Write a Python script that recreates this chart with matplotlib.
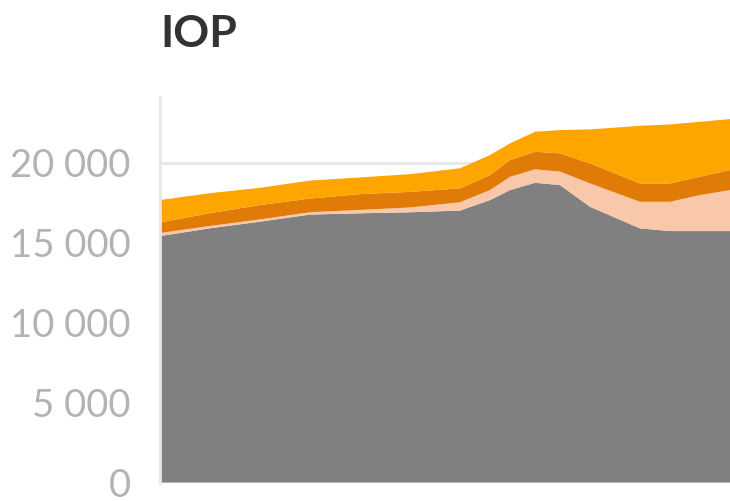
import matplotlib
matplotlib.use("Agg")
import matplotlib.pyplot as plt
from matplotlib.ticker import FuncFormatter

# positions along the (unlabelled) x axis
pos = [0, 50, 100, 150, 200, 250, 300, 330, 350, 375, 400, 430, 480, 510, 540, 570]

# stacked layers, bottom to top
grey = [15406, 15894, 16306, 16750, 16831, 16894, 17000, 17656, 18281, 18737,
        18594, 17238, 15888, 15719, 15719, 15719]
peach = [190, 145, 140, 145, 210, 300, 520, 625, 830, 840,
         840, 1460, 1660, 1830, 2250, 2560]
dark_orange = [656, 800, 900, 856, 987, 975, 869, 938, 1044, 1100,
               1144, 1250, 1150, 1150, 1150, 1257]
orange = [1406, 1250, 1075, 1125, 1044, 1106, 1256, 1250, 1044, 1250,
          1456, 2125, 3600, 3687, 3431, 3181]

layers = [grey, peach, dark_orange, orange]
colors = ["#808080", "#f9c8aa", "#e07b08", "#ffa500"]

fig = plt.figure(figsize=(7.3, 5.01), dpi=100)
ax = fig.add_axes([160 / 730, 18.5 / 501, 570 / 730, 385.5 / 501])

ax.stackplot(pos, *layers, colors=colors, linewidth=0, zorder=2)

ax.set_xlim(0, 570)
ax.set_ylim(0, 24100)
ax.set_yticks([0, 5000, 10000, 15000, 20000])
ax.yaxis.set_major_formatter(FuncFormatter(lambda v, _: f"{int(v):,}".replace(",", " ")))
ax.grid(axis="y", color="#e8e8e8", linewidth=2, zorder=0)
ax.set_axisbelow(True)
ax.set_xticks([])

for side in ["top", "right", "bottom"]:
    ax.spines[side].set_visible(False)
ax.spines["left"].set_color("#e8e8e8")
ax.spines["left"].set_linewidth(2)

ax.tick_params(axis="y", length=0, pad=21, labelsize=27.5, labelcolor="#b3b3b3")
for lab in ax.get_yticklabels():
    lab.set_fontfamily("Lato")

fig.text(160 / 730, 1 - 47 / 501, "IOP", fontfamily="Lato", fontweight="bold",
         fontsize=32, color="#333333", ha="left", va="baseline")

fig.savefig("out.png", dpi=100)
